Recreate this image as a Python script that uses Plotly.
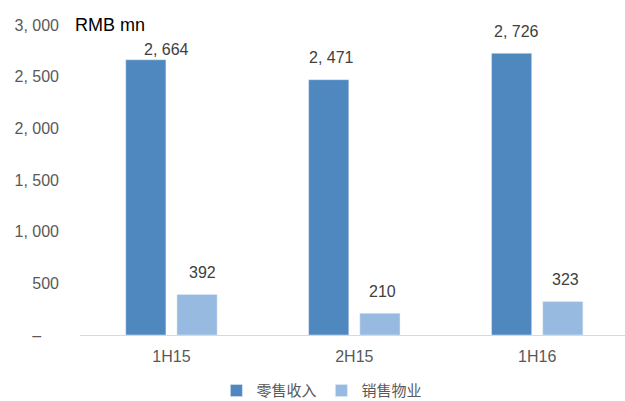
import plotly.graph_objects as go

categories = ["1H15", "2H15", "1H16"]
retail = [2664, 2471, 2726]
property_sales = [392, 210, 323]
series_names = ["零售收入", "销售物业"]
tick_vals = [0, 500, 1000, 1500, 2000, 2500, 3000]
tick_text = ["–\u2007\u2007", "500", "1, 000", "1, 500", "2, 000", "2, 500", "3, 000"]

# label style offsets (pixels)
retail_label_dx = [21, 3, 5]
retail_label_dy = [10, 22, 22]
prop_label_dx = [5, 3, 3]
prop_label_dy = [22, 22, 22]

def fmt(v):
    return f"{v:,}".replace(",", ", ")

colors = ["#4E88BF", "#97BAE1"]
fig = go.Figure()
for name, vals, col in [(series_names[0], retail, colors[0]), (series_names[1], property_sales, colors[1])]:
    fig.add_trace(go.Bar(x=categories, y=vals, name=name, marker_color=col))

plot_w = 545
x_range = [-0.5, 2.48]
bargap, bargroupgap = 0.44, 0.216
cat_px = plot_w / (x_range[1] - x_range[0])
slot = cat_px * (1 - bargap) / 2
off = slot / 2

annotations = [dict(text="RMB mn", xref="paper", yref="paper", x=-0.012, y=1.0,
                    xanchor="left", yanchor="middle", showarrow=False,
                    font=dict(family="Liberation Sans", size=18, color="black"))]
lab_font = dict(family="Liberation Sans", size=16, color="#404040")
for i, c in enumerate(categories):
    annotations.append(dict(text=fmt(retail[i]), x=c, y=retail[i], xref="x", yref="y",
                            xshift=-off + retail_label_dx[i], yshift=retail_label_dy[i],
                            showarrow=False, font=lab_font))
    annotations.append(dict(text=fmt(property_sales[i]), x=c, y=property_sales[i], xref="x", yref="y",
                            xshift=off + prop_label_dx[i], yshift=prop_label_dy[i],
                            showarrow=False, font=lab_font))

fig.update_layout(
    width=625, height=401,
    margin=dict(l=80, r=0, t=25, b=66, autoexpand=False),
    paper_bgcolor="white", plot_bgcolor="white",
    barmode="group", bargap=bargap, bargroupgap=bargroupgap,
    font=dict(family="Liberation Sans", size=16, color="#595959"),
    showlegend=True,
    legend=dict(orientation="h", xref="container", x=0.515, xanchor="center",
                yref="paper", y=-0.18, yanchor="middle",
                font=dict(family="Noto Sans CJK SC", size=15, color="#595959"),
                traceorder="normal", itemwidth=30),
    annotations=annotations,
)
fig.update_xaxes(range=x_range, showline=True, linecolor="#D9D9D9", linewidth=1,
                 ticks="", ticklabelstandoff=7, tickfont=dict(size=16, color="#595959"), showgrid=False)
fig.update_yaxes(range=[0, 3000], tickvals=tick_vals, ticktext=tick_text, showgrid=False,
                 zeroline=False, showline=False, ticks="", ticklabelstandoff=20,
                 tickfont=dict(size=16, color="#595959"))

fig.write_html("out.html")
